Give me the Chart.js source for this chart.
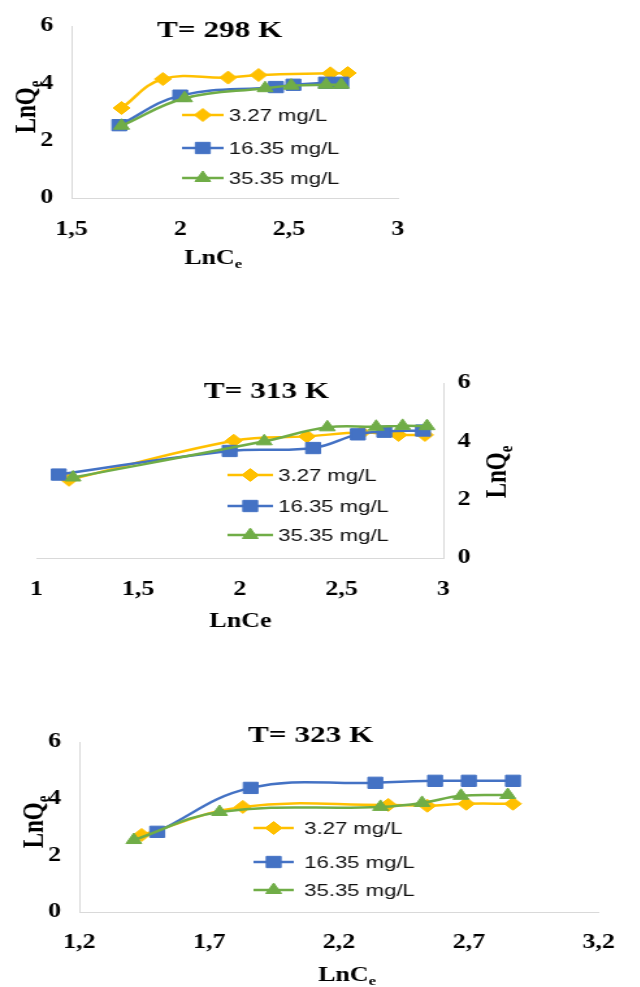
<!DOCTYPE html>
<html>
<head>
<meta charset="utf-8">
<script src="https://cdn.jsdelivr.net/npm/chart.js@4.4.1/dist/chart.umd.min.js"></script>
<style>
  body { margin: 0; background: #fff; width: 640px; height: 987px; position: relative; overflow: hidden; }
  /* the source figure is stretched sideways, so the canvases are too */
  canvas { position: absolute; left: 0; transform: scaleX(1.3); transform-origin: 0 0; }
</style>
</head>
<body>
<canvas id="chart298" width="492" height="290" style="top:0px"></canvas>
<canvas id="chart313" width="492" height="280" style="top:360px"></canvas>
<canvas id="chart323" width="492" height="287" style="top:700px"></canvas>
<script>
const seriesNames = ["3.27 mg/L", "16.35 mg/L", "35.35 mg/L"];
const seriesColors = ["#FFC000", "#4472C4", "#70AD47"];
const pointStyles = ["rectRot", "rect", "triangle"];
const pointSizes = [6.5, 8, 7];
const yTicks = [0, 2, 4, 6];

// T = 298 K
const xTicks298 = [1.5, 2, 2.5, 3];
const lnCe298_a = [1.73, 1.92, 2.22, 2.36, 2.69, 2.77];
const lnQe298_a = [3.14, 4.15, 4.2, 4.29, 4.35, 4.36];
const lnCe298_b = [1.72, 2.0, 2.44, 2.52, 2.67, 2.74];
const lnQe298_b = [2.54, 3.57, 3.87, 3.95, 4.02, 4.02];
const lnCe298_c = [1.73, 2.02, 2.39, 2.51, 2.67, 2.74];
const lnQe298_c = [2.52, 3.48, 3.83, 3.92, 3.95, 3.95];

// T = 313 K
const xTicks313 = [1, 1.5, 2, 2.5, 3];
const lnCe313_a = [1.16, 1.97, 2.33, 2.6, 2.78, 2.91];
const lnQe313_a = [2.68, 4.02, 4.17, 4.3, 4.22, 4.22];
const lnCe313_b = [1.11, 1.95, 2.36, 2.58, 2.71, 2.9];
const lnQe313_b = [2.86, 3.67, 3.77, 4.24, 4.33, 4.37];
const lnCe313_c = [1.18, 2.12, 2.43, 2.67, 2.8, 2.92];
const lnQe313_c = [2.76, 4.0, 4.48, 4.5, 4.53, 4.52];

// T = 323 K
const xTicks323 = [1.2, 1.7, 2.2, 2.7, 3.2];
const lnCe323_a = [1.44, 1.83, 2.39, 2.54, 2.69, 2.87];
const lnQe323_a = [2.72, 3.71, 3.78, 3.75, 3.82, 3.82];
const lnCe323_b = [1.5, 1.86, 2.34, 2.57, 2.7, 2.87];
const lnQe323_b = [2.83, 4.38, 4.56, 4.63, 4.63, 4.63];
const lnCe323_c = [1.41, 1.74, 2.36, 2.52, 2.67, 2.85];
const lnQe323_c = [2.54, 3.53, 3.71, 3.85, 4.1, 4.13];

const serif = "'Liberation Serif', 'Times New Roman', serif";
const sans = "'Liberation Sans', Arial, sans-serif";

function drawAxisTitle(ctx, t) {
  ctx.save();
  ctx.translate(t.x, t.y);
  let base = 0;
  if (t.rotate) {
    ctx.rotate(-Math.PI / 2);
    base = t.size * 0.33;
  }
  ctx.fillStyle = "#000";
  ctx.textAlign = "left";
  ctx.textBaseline = "alphabetic";
  ctx.font = "bold " + t.size + "px " + serif;
  const mainW = ctx.measureText(t.main).width;
  ctx.font = "bold " + t.subSize + "px " + serif;
  const subW = t.sub ? ctx.measureText(t.sub).width : 0;
  const start = -(mainW + subW) / 2;
  ctx.font = "bold " + t.size + "px " + serif;
  ctx.fillText(t.main, start, base);
  if (t.sub) {
    ctx.font = "bold " + t.subSize + "px " + serif;
    ctx.fillText(t.sub, start + mainW, base + t.size * 0.22);
  }
  ctx.restore();
}

// heading, axis titles and the legend are all inside the plot in the source
const overlay = {
  id: "overlay",
  afterDraw(chart, args, opts) {
    const ctx = chart.ctx;
    ctx.save();
    ctx.fillStyle = "#000";
    ctx.font = "bold 24px " + serif;
    ctx.textAlign = "center";
    ctx.textBaseline = "alphabetic";
    ctx.fillText(opts.heading, opts.headingX, opts.headingY);

    drawAxisTitle(ctx, opts.xTitle);
    drawAxisTitle(ctx, opts.yTitle);

    const lg = opts.legend;
    chart.data.datasets.forEach((ds, i) => {
      const y = lg.rows[i];
      ctx.strokeStyle = ds.borderColor;
      ctx.lineWidth = 2.5;
      ctx.beginPath();
      ctx.moveTo(lg.x0, y);
      ctx.lineTo(lg.x1, y);
      ctx.stroke();
      ctx.fillStyle = ds.backgroundColor;
      ctx.lineWidth = 1;
      Chart.helpers.drawPoint(ctx, { pointStyle: ds.pointStyle, radius: ds.pointRadius, rotation: 0, borderWidth: 1 }, (lg.x0 + lg.x1) / 2, y);
      ctx.fillStyle = "#111";
      ctx.font = "17px " + sans;
      ctx.textAlign = "left";
      ctx.textBaseline = "middle";
      ctx.fillText(ds.label, lg.tx, y + 1);
    });
    ctx.restore();
  }
};

function buildChart(canvasId, xLists, yLists, xTicks, setup) {
  const datasets = seriesNames.map((name, i) => ({
    label: name,
    data: xLists[i].map((x, k) => ({ x: x, y: yLists[i][k] })),
    borderColor: seriesColors[i],
    backgroundColor: seriesColors[i],
    borderWidth: 2.5,
    pointStyle: pointStyles[i],
    pointRadius: pointSizes[i],
    pointBorderWidth: 1,
    tension: 0.4,
    order: 3 - i
  }));
  const tickFont = { family: serif, size: 20, weight: "bold" };
  return new Chart(document.getElementById(canvasId), {
    type: "line",
    data: { datasets: datasets },
    options: {
      responsive: false,
      animation: false,
      events: [],
      layout: { padding: setup.padding },
      plugins: {
        legend: { display: false },
        tooltip: { enabled: false },
        overlay: setup.overlay
      },
      scales: {
        x: {
          type: "linear",
          min: xTicks[0],
          max: xTicks[xTicks.length - 1],
          afterBuildTicks: (s) => { s.ticks = xTicks.map((v) => ({ value: v })); },
          afterFit: (s) => { s.height = setup.xHeight; },
          grid: { display: false, drawTicks: false },
          border: { display: true, color: "#d9d9d9", width: 1 },
          ticks: {
            font: tickFont,
            color: "#000",
            padding: setup.xPad,
            maxRotation: 0,
            callback: (v) => String(v).replace(".", ",")
          }
        },
        y: {
          type: "linear",
          position: setup.yPos,
          min: 0,
          max: 6,
          afterBuildTicks: (s) => { s.ticks = yTicks.map((v) => ({ value: v })); },
          afterFit: (s) => { s.width = setup.yWidth; },
          grid: { display: false, drawTicks: false },
          border: { display: true, color: "#d9d9d9", width: 1 },
          ticks: { font: tickFont, color: "#000", padding: setup.yPad }
        }
      }
    },
    plugins: [overlay]
  });
}

buildChart("chart298",
  [lnCe298_a, lnCe298_b, lnCe298_c],
  [lnQe298_a, lnQe298_b, lnQe298_c],
  xTicks298,
  {
    padding: { left: 0, right: 186, top: 16, bottom: 0 },
    xHeight: 92, yWidth: 55, xPad: 20, yPad: 14, yPos: "left",
    overlay: {
      heading: "T= 298 K", headingX: 169, headingY: 37,
      xTitle: { main: "LnC", sub: "e", size: 20, subSize: 13, x: 164, y: 264 },
      yTitle: { main: "LnQ", sub: "e", size: 23, subSize: 15, x: 19, y: 107, rotate: true },
      legend: { rows: [115, 148, 178], x0: 140, x1: 172, tx: 176 }
    }
  });

buildChart("chart313",
  [lnCe313_a, lnCe313_b, lnCe313_c],
  [lnQe313_a, lnQe313_b, lnQe313_c],
  xTicks313,
  {
    padding: { left: 28, right: 0, top: 18, bottom: 0 },
    xHeight: 82, yWidth: 151, xPad: 20, yPad: 11, yPos: "right",
    overlay: {
      heading: "T= 313 K", headingX: 205, headingY: 38,
      xTitle: { main: "LnCe", sub: "", size: 20, subSize: 13, x: 185, y: 267 },
      yTitle: { main: "LnQ", sub: "e", size: 23, subSize: 15, x: 381, y: 112, rotate: true },
      legend: { rows: [115, 146, 175], x0: 175, x1: 210, tx: 214 }
    }
  });

buildChart("chart323",
  [lnCe323_a, lnCe323_b, lnCe323_c],
  [lnQe323_a, lnQe323_b, lnQe323_c],
  xTicks323,
  {
    padding: { left: 0, right: 22, top: 42, bottom: 0 },
    xHeight: 75, yWidth: 61, xPad: 19, yPad: 14, yPos: "left",
    overlay: {
      heading: "T= 323 K", headingX: 239, headingY: 42,
      xTitle: { main: "LnC", sub: "e", size: 20, subSize: 13, x: 267, y: 281 },
      yTitle: { main: "LnQ", sub: "e", size: 23, subSize: 15, x: 25, y: 122, rotate: true },
      legend: { rows: [128, 162, 190], x0: 195, x1: 226, tx: 234 }
    }
  });
</script>
</body>
</html>
